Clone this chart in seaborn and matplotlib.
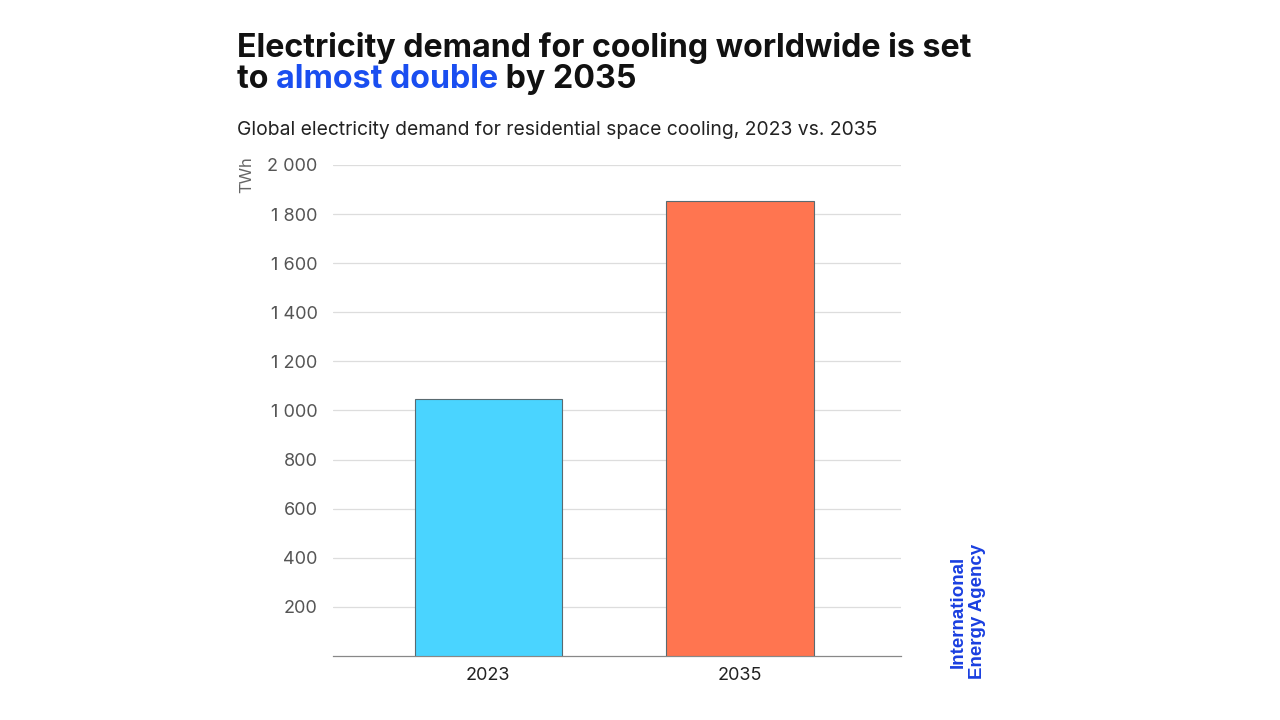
import seaborn as sns
import matplotlib.pyplot as plt
import pandas as pd

# Global electricity demand for residential space cooling (TWh)
years = ['2023', '2035']
demand = [1045, 1852]
bar_colors = ['#4AD4FF', '#FF7550']
y_ticks = [200, 400, 600, 800, 1000, 1200, 1400, 1600, 1800, 2000]
y_tick_labels = ['200', '400', '600', '800', '1 000', '1 200', '1 400', '1 600', '1 800', '2 000']

df = pd.DataFrame({'year': years, 'demand': demand})

sns.set_style('white')
plt.rcParams['font.family'] = ['Inter', 'DejaVu Sans']

fig = plt.figure(figsize=(12.8, 7.2), dpi=100)
ax = fig.add_axes([0.260, 0.0889, 0.444, 0.682])

sns.barplot(data=df, x='year', y='demand', hue='year', palette=bar_colors,
            saturation=1, width=0.585, edgecolor='#5a6a70', linewidth=0.8,
            legend=False, ax=ax, zorder=3)

ax.set_ylim(0, 2000)
ax.set_xlim(-0.618, 1.64)
ax.set_yticks(y_ticks)
ax.set_yticklabels(y_tick_labels)
ax.yaxis.grid(True, color='#dddddd', linewidth=0.9, zorder=0)
ax.tick_params(axis='y', length=0, pad=11, labelsize=13, labelcolor='#555555')
ax.tick_params(axis='x', length=0, pad=8, labelsize=13, labelcolor='#222222')
ax.set_xlabel('')
ax.set_ylabel('')
for s in ['top', 'right', 'left']:
    ax.spines[s].set_visible(False)
ax.spines['bottom'].set_color('#888888')
ax.spines['bottom'].set_linewidth(0.9)

# y unit label
fig.text(0.193, 0.757, 'TWh', rotation=90, fontsize=12, color='#666666',
         ha='center', va='center')

# title, second line has a highlighted phrase
tsize = 23.2
fig.text(0.185, 0.934, 'Electricity demand for cooling worldwide is set',
         fontsize=tsize, fontweight='bold', color='#111111', va='center')
fig.canvas.draw()
r = fig.canvas.get_renderer()
x = 0.185
for piece, col in [('to ', '#111111'), ('almost double', '#1a4ef0'), (' by 2035', '#111111')]:
    t = fig.text(x, 0.889, piece, fontsize=tsize, fontweight='bold', color=col, va='center')
    w = t.get_window_extent(renderer=r).width
    x += w / fig.bbox.width

fig.text(0.185, 0.82, 'Global electricity demand for residential space cooling, 2023 vs. 2035',
         fontsize=13.9, color='#222222', va='center')

# agency wordmark
fig.text(0.756, 0.057, 'International\nEnergy Agency', rotation=90, fontsize=13.5,
         fontweight='bold', color='#1a3fe0', ha='center', va='bottom', linespacing=1.15,
         family=['Liberation Sans', 'DejaVu Sans'])

plt.savefig('out.png', dpi=100)
